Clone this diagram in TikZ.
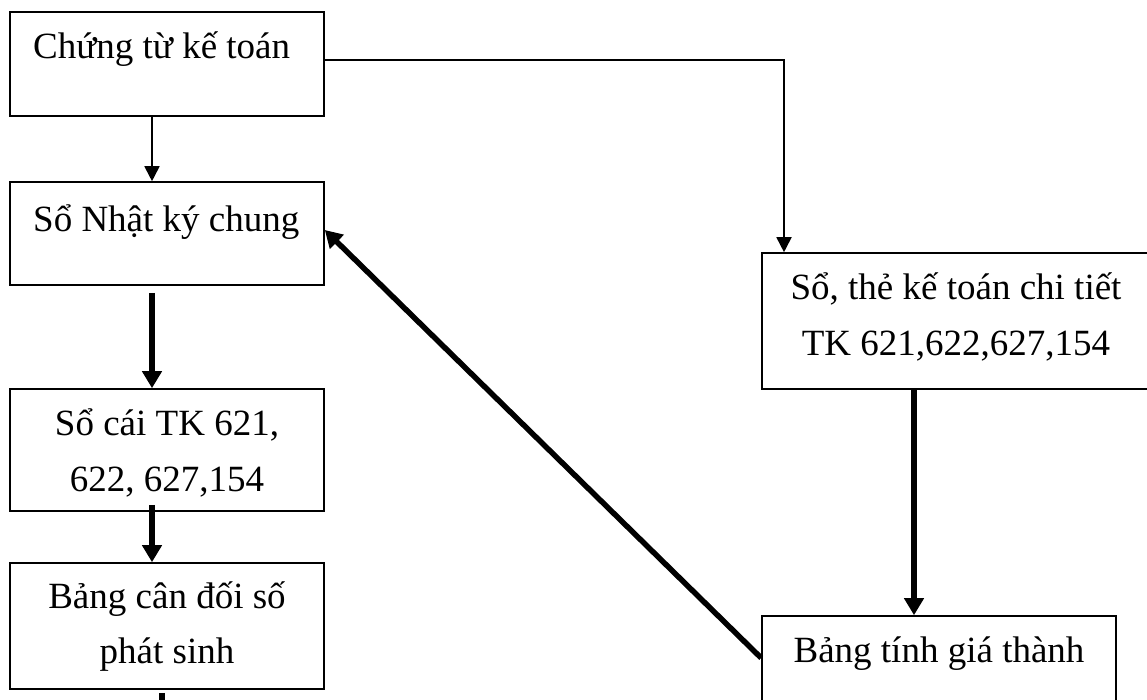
\documentclass[tikz,border=0pt]{standalone}
\usepackage{fontspec}
\setmainfont{Liberation Serif}
\usetikzlibrary{arrows.meta}
\begin{document}
\begin{tikzpicture}[x=1pt,y=-1pt,
  box/.style={draw,line width=1.6pt,minimum width=#1,inner sep=0pt},
  lbl/.style={anchor=base,inner sep=0pt,font=\fontsize{37}{56}\selectfont,align=center},
  thinarrow/.style={line width=1.8pt,-{Triangle[length=15pt,width=15pt]}},
  thickarrow/.style={line width=6pt,-{Triangle[length=17pt,width=19pt]}},
  thickline/.style={line width=6pt}]
\useasboundingbox (0,0) rectangle (1147,700);
\clip (0,0) rectangle (1147,700);

% boxes
\node[box=314pt,minimum height=104pt] (b1) at (167,64) {};
\node[box=314pt,minimum height=103pt] (b2) at (167,233.5) {};
\node[box=314pt,minimum height=122pt] (b3) at (167,450) {};
\node[box=314pt,minimum height=126pt] (b4) at (167,626) {};
\node[box=500pt,minimum height=136pt] (b5) at (1012,321) {};
\node[box=354pt,minimum height=104pt] (b6) at (939,668) {};

% box texts
\node[lbl,anchor=base west] (t1) at (33,59) {Chứng từ kế toán};
\node[lbl,anchor=base west] (t2) at (33,232) {Sổ Nhật ký chung};
\node[lbl] (t3a) at (167,435) {Sổ cái TK 621,};
\node[lbl] (t3b) at (167,491) {622, 627,154};
\node[lbl] (t4a) at (167,608) {Bảng cân đối số};
\node[lbl] (t4b) at (167,663) {phát sinh};
\node[lbl] (t5a) at (956,299) {Sổ, thẻ kế toán chi tiết};
\node[lbl] (t5b) at (956,355) {TK 621,622,627,154};
\node[lbl] (t6) at (939,662) {Bảng tính giá thành};

% connectors
\draw[thinarrow] ([xshift=-15pt]b1.south) -- ([xshift=-15pt]b2.north);
\draw[thickarrow] ([xshift=-15pt,yshift=-7pt]b2.south) -- ([xshift=-15pt]b3.north);
\draw[thickarrow] ([xshift=-15pt,yshift=7pt]b3.south) -- ([xshift=-15pt]b4.north);
\coordinate (down) at (162,705);
\draw[thickline] ([xshift=-5pt,yshift=-3pt]b4.south) -- (down);
\draw[thinarrow] ([yshift=4pt]b1.east) -| ([xshift=-228pt]b5.north);
\draw[thickarrow] ([xshift=-98pt]b5.south) -- ([xshift=-25pt]b6.north);
\draw[line width=5.5pt,-{Triangle[length=17pt,width=19pt]}]
  ([yshift=10pt]b6.west) -- ([yshift=3.5pt]b2.east);
\end{tikzpicture}
\end{document}
